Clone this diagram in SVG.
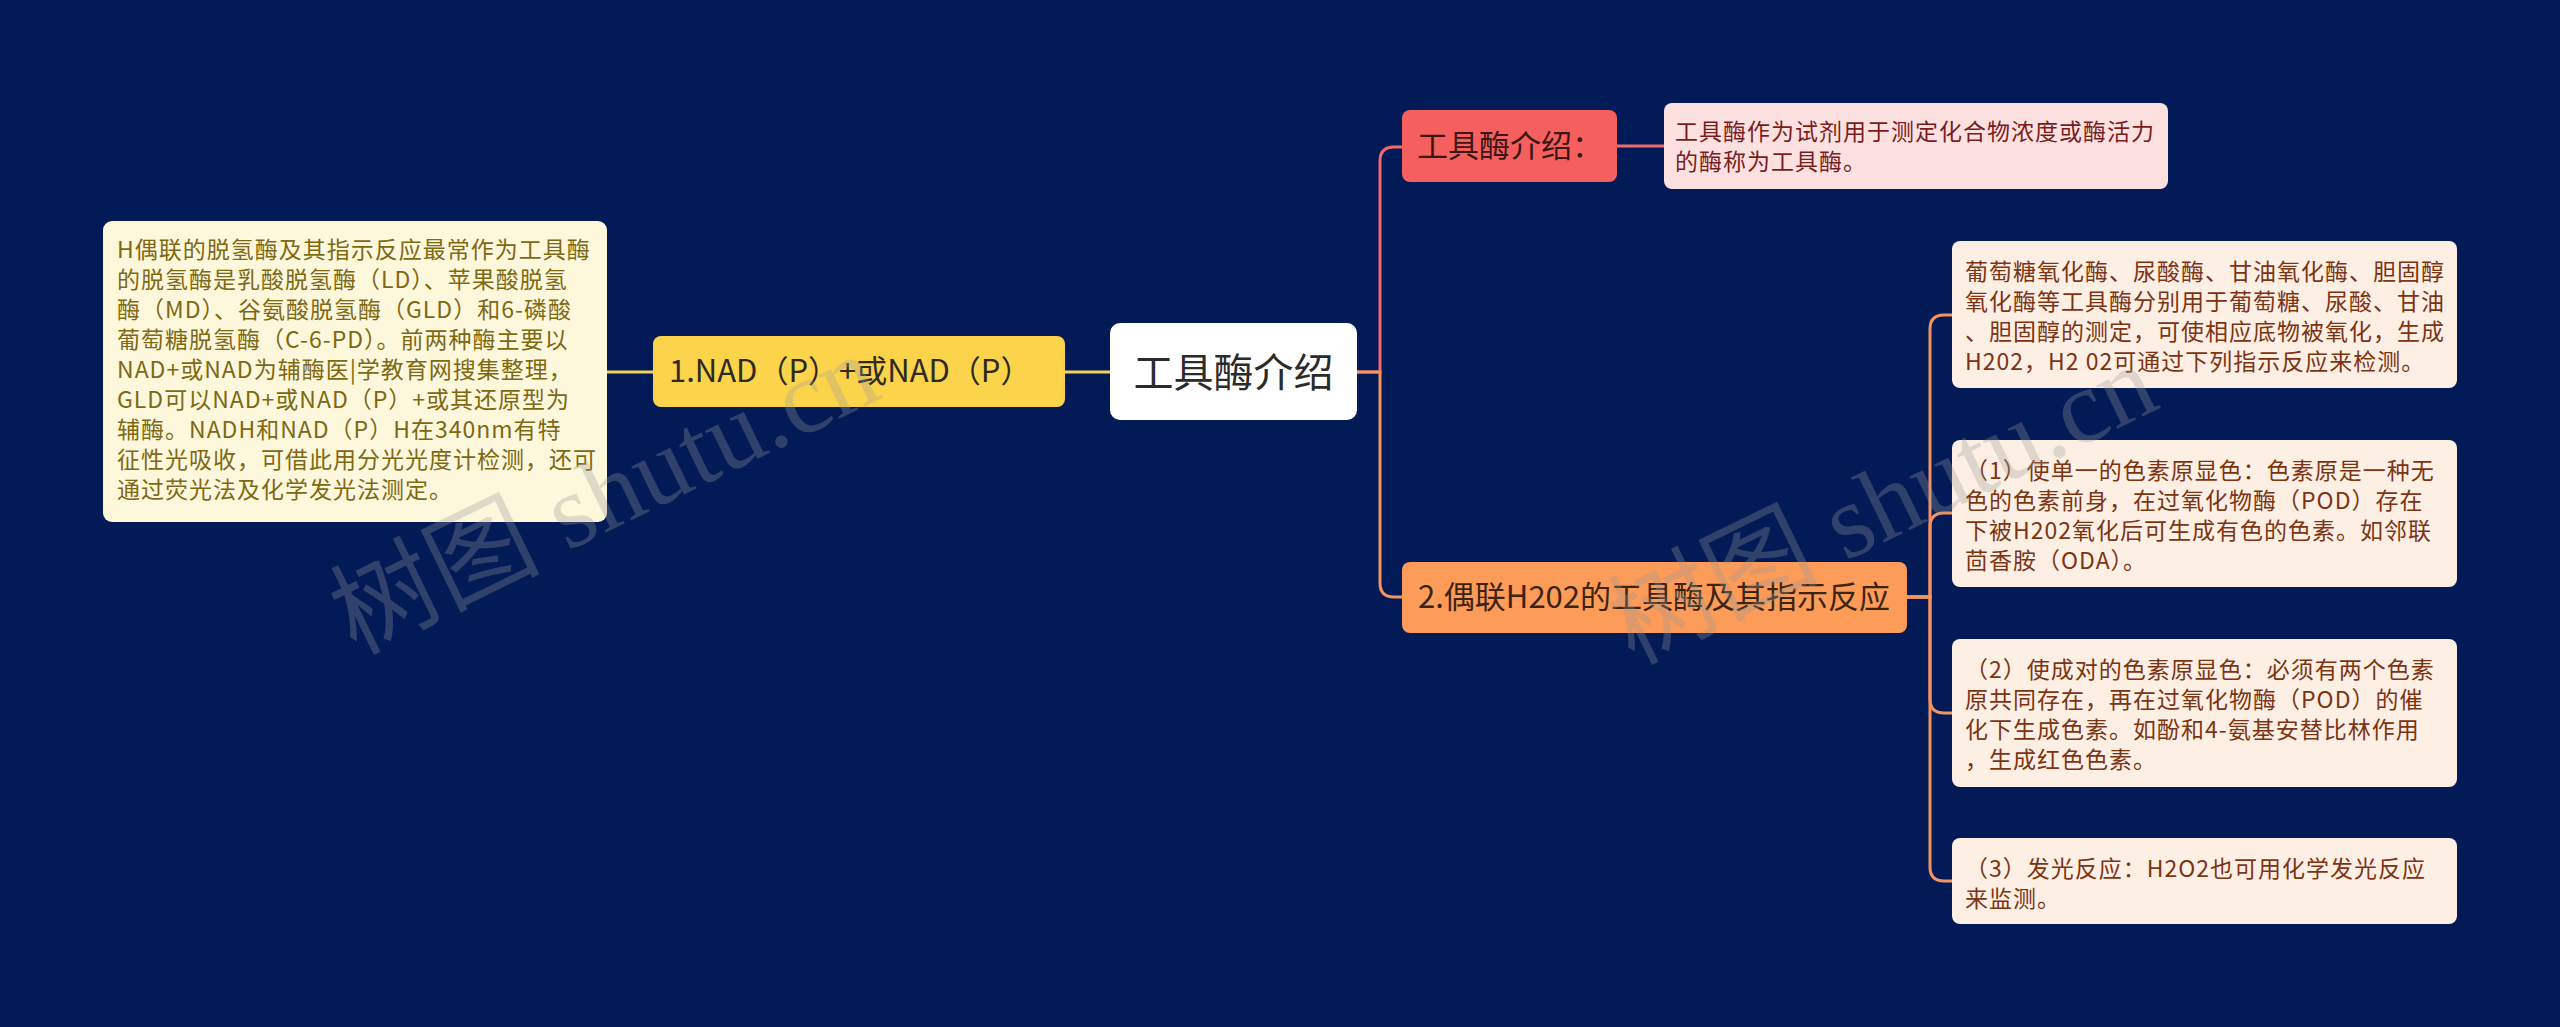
<svg xmlns="http://www.w3.org/2000/svg" width="2560" height="1027" viewBox="0 0 2560 1027">
<style>
.t{font-family:"Noto Sans CJK SC","Noto Sans",sans-serif}
.s2{font-size:23px;letter-spacing:1px}
.s1{font-size:31px}
.ln{fill:none;stroke-width:3;stroke-linecap:round}
.wm{font-family:"Liberation Serif","Noto Sans CJK SC",serif;font-size:105px;fill:#9a9a9a;opacity:0.3}
</style>
<rect x="0" y="0" width="2560" height="1027" fill="#021b57"/>

<g id="connectors">
  <path class="ln" stroke="#f5d35a" d="M607 372 H653"/>
  <path class="ln" stroke="#f5d35a" d="M1065 372 H1110"/>
  <path class="ln" stroke="#ef6a6c" d="M1357 372 H1380 V161 Q1380 147 1394 147 H1402"/>
  <path class="ln" stroke="#f4935e" d="M1357 372 H1380 V583 Q1380 597 1394 597 H1402"/>
  <path class="ln" stroke="#ef6a6c" d="M1617 146 H1664"/>
  <path class="ln" stroke="#f4935e" d="M1907 597 H1930 V329 Q1930 315 1944 315 H1952"/>
  <path class="ln" stroke="#f4935e" d="M1907 597 H1930 V527 Q1930 513 1944 513 H1952"/>
  <path class="ln" stroke="#f4935e" d="M1907 597 H1930 V699 Q1930 713 1944 713 H1952"/>
  <path class="ln" stroke="#f4935e" d="M1907 597 H1930 V867 Q1930 881 1944 881 H1952"/>
</g>

<g id="n-left-detail">
  <rect x="103" y="221" width="504" height="301" rx="9" fill="#fdf7dc"/>
  <text class="t s2" fill="#7e6912">
    <tspan x="117" y="258">H偶联的脱氢酶及其指示反应最常作为工具酶</tspan>
    <tspan x="117" y="288">的脱氢酶是乳酸脱氢酶（LD）、苹果酸脱氢</tspan>
    <tspan x="117" y="318">酶（MD）、谷氨酸脱氢酶（GLD）和6-磷酸</tspan>
    <tspan x="117" y="348">葡萄糖脱氢酶（C-6-PD）。前两种酶主要以</tspan>
    <tspan x="117" y="378">NAD+或NAD为辅酶医|学教育网搜集整理，</tspan>
    <tspan x="117" y="408">GLD可以NAD+或NAD（P）+或其还原型为</tspan>
    <tspan x="117" y="438">辅酶。NADH和NAD（P）H在340nm有特</tspan>
    <tspan x="117" y="468">征性光吸收，可借此用分光光度计检测，还可</tspan>
    <tspan x="117" y="498">通过荧光法及化学发光法测定。</tspan>
  </text>
</g>

<g id="n-nad">
  <rect x="653" y="336" width="412" height="71" rx="8" fill="#fcd44c"/>
  <text class="t s1" x="669" y="382" fill="#2f2a1e">1.NAD（P）+或NAD（P）</text>
</g>

<g id="n-center">
  <rect x="1110" y="323" width="247" height="97" rx="10" fill="#ffffff"/>
  <text class="t" x="1233.5" y="387" font-size="40" text-anchor="middle" fill="#2b2b2b">工具酶介绍</text>
</g>

<g id="n-intro">
  <rect x="1402" y="110" width="215" height="72" rx="8" fill="#f5605f"/>
  <text class="t s1" x="1417" y="157" fill="#3d1515">工具酶介绍：</text>
</g>

<g id="n-intro-detail">
  <rect x="1664" y="103" width="504" height="86" rx="8" fill="#fde1e1"/>
  <text class="t s2" fill="#7b1c1c">
    <tspan x="1675" y="140">工具酶作为试剂用于测定化合物浓度或酶活力</tspan>
    <tspan x="1675" y="170">的酶称为工具酶。</tspan>
  </text>
</g>

<g id="n-h2o2">
  <rect x="1402" y="562" width="505" height="71" rx="8" fill="#fd9b58"/>
  <text class="t s1" x="1418" y="608" fill="#3d2410">2.偶联H202的工具酶及其指示反应</text>
</g>

<g id="n-a">
  <rect x="1952" y="241" width="505" height="147" rx="8" fill="#fdefe4"/>
  <text class="t s2" fill="#7c3412">
    <tspan x="1965" y="280">葡萄糖氧化酶、尿酸酶、甘油氧化酶、胆固醇</tspan>
    <tspan x="1965" y="310">氧化酶等工具酶分别用于葡萄糖、尿酸、甘油</tspan>
    <tspan x="1965" y="340">、胆固醇的测定，可使相应底物被氧化，生成</tspan>
    <tspan x="1965" y="370">H202，H2 02可通过下列指示反应来检测。</tspan>
  </text>
</g>

<g id="n-b">
  <rect x="1952" y="440" width="505" height="147" rx="8" fill="#fdefe4"/>
  <text class="t s2" fill="#7c3412">
    <tspan x="1965" y="479">（1）使单一的色素原显色：色素原是一种无</tspan>
    <tspan x="1965" y="509">色的色素前身，在过氧化物酶（POD）存在</tspan>
    <tspan x="1965" y="539">下被H202氧化后可生成有色的色素。如邻联</tspan>
    <tspan x="1965" y="569">茴香胺（ODA）。</tspan>
  </text>
</g>

<g id="n-c">
  <rect x="1952" y="639" width="505" height="148" rx="8" fill="#fdefe4"/>
  <text class="t s2" fill="#7c3412">
    <tspan x="1965" y="678">（2）使成对的色素原显色：必须有两个色素</tspan>
    <tspan x="1965" y="708">原共同存在，再在过氧化物酶（POD）的催</tspan>
    <tspan x="1965" y="738">化下生成色素。如酚和4-氨基安替比林作用</tspan>
    <tspan x="1965" y="768">，生成红色色素。</tspan>
  </text>
</g>

<g id="n-d">
  <rect x="1952" y="838" width="505" height="86" rx="8" fill="#fdefe4"/>
  <text class="t s2" fill="#7c3412">
    <tspan x="1965" y="877">（3）发光反应：H2O2也可用化学发光反应</tspan>
    <tspan x="1965" y="907">来监测。</tspan>
  </text>
</g>

<g id="watermarks">
  <text class="wm" transform="translate(355 655) rotate(-26)">树图 shutu.cn</text>
  <text class="wm" transform="translate(1633 665) rotate(-26)">树图 shutu.cn</text>
</g>
</svg>
